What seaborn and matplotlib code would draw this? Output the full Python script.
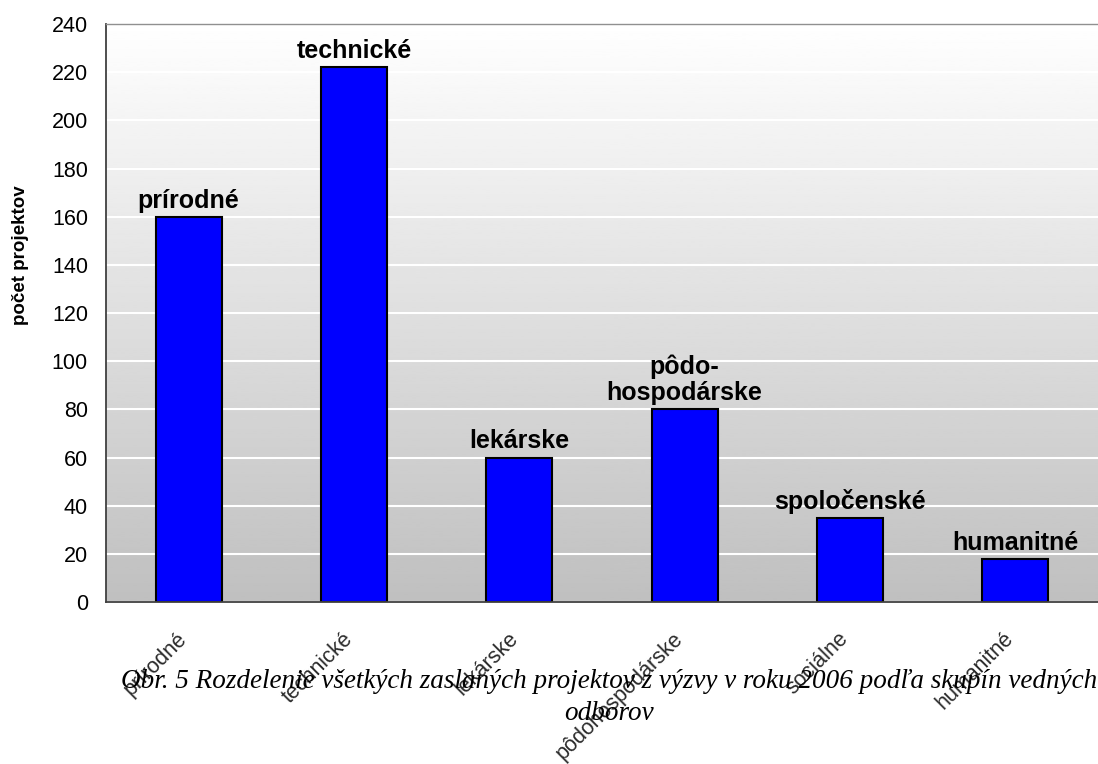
import numpy as np
import seaborn as sns
import matplotlib.transforms as mtransforms
from matplotlib import pyplot as plt

# Data
categories = ["prírodné", "technické", "lekárske", "pôdohospodárske", "sociálne", "humanitné"]
bar_labels = ["prírodné", "technické", "lekárske", "pôdo-\nhospodárske", "spoločenské", "humanitné"]
values = [160, 222, 60, 80, 35, 18]
yticks = list(range(0, 241, 20))
caption = ("Obr. 5 Rozdelenie všetkých zaslaných projektov z výzvy v roku 2006 podľa skupín vedných\n"
           "odborov")

sns.set_style("white")
plt.rcParams['font.family'] = ['Liberation Sans', 'DejaVu Sans']
plt.rcParams['text.color'] = 'black'
plt.rcParams['axes.labelcolor'] = 'black'
plt.rcParams['ytick.labelcolor'] = 'black'

fig = plt.figure(figsize=(10.98, 7.64), dpi=100)
rect = [0.0965, 0.212, 0.9035, 0.7566]

# gradient background (white at top, grey at bottom)
bg = fig.add_axes(rect, zorder=0)
grad = np.linspace(1.0, 0.75, 256).reshape(-1, 1)
bg.imshow(grad, cmap="gray", vmin=0, vmax=1, aspect="auto", extent=[0, 1, 0, 1])
bg.axis("off")

ax = fig.add_axes(rect, zorder=1)
ax.set_facecolor("none")
sns.barplot(x=categories, y=values, color="#0000ff", saturation=1, width=0.4,
            edgecolor="black", linewidth=1.5, ax=ax)

ax.set_ylim(0, 240)
ax.set_xlim(-0.5, len(categories) - 0.5)
ax.set_yticks(yticks)
ax.yaxis.grid(True, color="white", linewidth=1.5)
ax.set_axisbelow(True)

# major ticks on category boundaries, labels on centres
ax.set_xticks(np.arange(-0.5, len(categories), 1.0))
ax.set_xticklabels([])
ax.set_xticks(range(len(categories)), minor=True)
ax.set_xticklabels(categories, minor=True, rotation=45, ha="right",
                   rotation_mode="anchor", fontsize=15.5, color="#2a2a2a")
ax.tick_params(axis="x", which="major", length=7, width=1.2, color="#404040", direction="out")
ax.tick_params(axis="x", which="minor", length=0, pad=19)
ax.tick_params(axis="y", length=6, width=1.2, color="#404040", direction="out",
               labelsize=15.5, pad=7)
offset = mtransforms.ScaledTranslation(-12 / 100, 0, fig.dpi_scale_trans)
for lab in ax.get_xticklabels(minor=True):
    lab.set_transform(lab.get_transform() + offset)

for side in ["left", "bottom"]:
    ax.spines[side].set_color("#404040")
    ax.spines[side].set_linewidth(1.3)
ax.spines["top"].set_color("#909090")
ax.spines["top"].set_linewidth(1.0)
ax.spines["right"].set_visible(False)

ax.bar_label(ax.containers[0], labels=bar_labels, padding=3,
             fontsize=18, fontweight="bold", color="black", linespacing=1.1)

ax.set_xlabel("")
ax.set_ylabel("počet projektov", fontsize=13.5, fontweight="bold")
ax.yaxis.set_label_coords(-0.078, 0.60)

fig.text(0.555, 0.087, caption, ha="center", va="center", fontsize=19.5,
         fontstyle="italic", family="Liberation Serif", linespacing=1.35)

plt.savefig("out.png", dpi=100)
